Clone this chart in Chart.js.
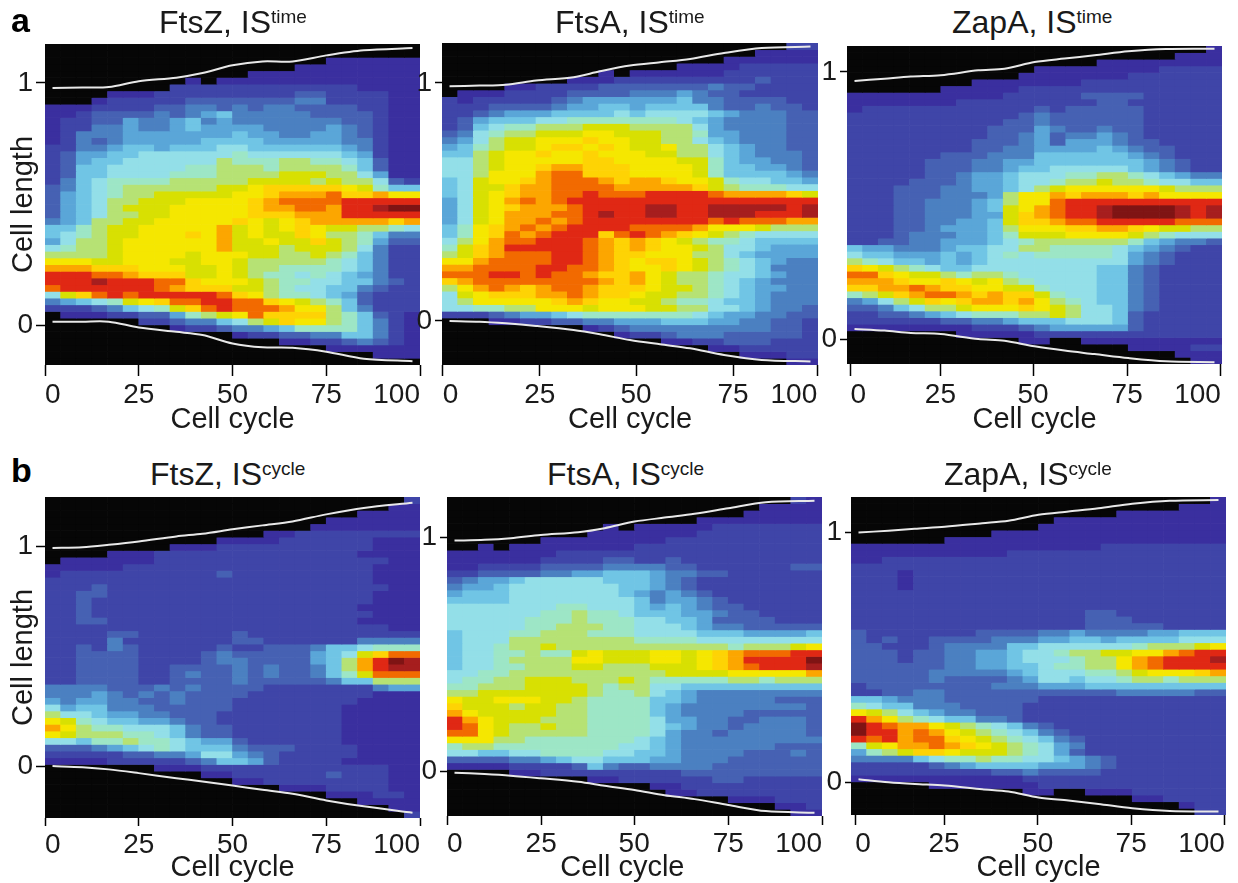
<!DOCTYPE html>
<html>
<head>
<meta charset="utf-8">
<title>Cell length heat maps</title>
<script src="https://cdn.jsdelivr.net/npm/chart.js@4/dist/chart.umd.min.js"></script>
<style>
    html, body { margin: 0; padding: 0; background: #fff; overflow: hidden; }
    #page { position: relative; width: 1238px; height: 883px; overflow: hidden; font-family: "Liberation Sans", Arial, sans-serif; color: #1a1a1a; }
    #page canvas { position: absolute; }
    .panel-title { position: absolute; font-size: 32px; line-height: 36px; white-space: nowrap; }
    .panel-title span { position: relative; top: -10px; font-size: 19px; }
    .panel-letter { position: absolute; left: 11px; font-size: 34px; line-height: 40px; font-weight: bold; color: #000; }
</style>
</head>
<body>
<div id="page"></div>
<script>
// Heat map levels, one string per row from top to bottom, one character per cell.
// "." is an empty (black) cell, then 0-9 a-g go from the darkest blue to the darkest red.
const ftszTimeCells = [
"........................",
"........................",
"..................000000",
"................00000000",
".............00000000000",
".........0.0000000000000",
"........1111111111110000",
"....00011111111122111100",
"...011111222222233111100",
"000111122332323322221100",
"001222232345333332222100",
"011224334534333333322100",
"011334334544443333432100",
"013334444444544334432100",
"013234444455554444433100",
"113345545556655555543100",
"124455666666766666654100",
"124556666668777887765200",
"125566666778887888875200",
"125566667778888999886400",
"135677778888899998988621",
"2356788888899abbbbba9755",
"245678899999aabcccdbbcaa",
"245688999aaaabcddddeeeee",
"24568999aaaaabccddceefgg",
"24568899aaaaabbbccceeeee",
"3458899aaaaaba9abcccccbc",
"557899aaaaac9a9aba998876",
"567899aaabac9a99ba887533",
"46889aaaaaac99a99b987422",
"67889aaaaaac999899986311",
"88889aaaa9aaa99889875311",
"aaa99aaa99aa988888765311",
"cccbbbaaa99a988777765311",
"eeeddcbbb99a987767654311",
"eeefeeeddbaaa98776655321",
"deeeeeedcbbb998766553211",
"69bdedeeeeedba8776542111",
"345679abddeeddba98752111",
"111235679bdedddcaa853111",
".00011224789adbbbb875210",
"......112335689baa875310",
"........0112334577775310",
"............011223355310",
"...............001123210",
"..................000000",
".....................000",
"........................"
];

const ftsaTimeCells = [
"......................11",
"....................0000",
"..................000000",
"...............000011111",
"..........0.000000111111",
"........0001111111112111",
"....00111122222223221111",
".00011112222333432211111",
"101111123444444533222211",
"111222234455455553223221",
"112344455556566665433322",
"124555667777777654333322",
"125677888999888864333322",
"236788999aa9998874433322",
"346899aaabaa998865433322",
"457899abbaba99a886543322",
"5589aabaabaaa99886543332",
"6689aaaaabbaaaa997544332",
"6689aabccbbbaaaa97554432",
"668aaacddbbbaaaa97555543",
"569aabcdddcbccbaa9766554",
"5699bccddddcccccb9877766",
"569abccddedddeeeedccccb9",
"469acdcdeeeeeeeeeeeeeeee",
"469abcccdeeeeffeefffffef",
"469acccddefeeffeefffeeef",
"469accdcdeeeeeeeededddcc",
"57abcdcdeeeeddddcaaa9888",
"57abdcdeeebdedcba9876666",
"68acddeeedcbcba987765555",
"79bceeeeedcbcbaa98665444",
"89bcdddeedcbbaaa88654444",
"aacddddeedcbabba98765433",
"ccddddeeddcbaaba98765333",
"dddeededdcbbca9887665433",
"bcddddddddcbca9887654333",
"8acdcbcddcbbba9987654433",
"69abbbccdcbba99887654333",
"68aaaaabcbaa998776554333",
"667788aaa9aaa99886654332",
"111234456777777765443322",
"...001122334445554433221",
".........012333333333221",
"...........0112333222221",
"..............0011222111",
".................0011111",
"...................00011",
"......................00"
];

const zapaTimeCells = [
".......................0",
".....................000",
"................00000000",
"............000000001111",
"...........0000000111111",
"........0000000111111111",
"......000001111111111111",
"000000000011111222211111",
"000000011111111122111111",
"011111111111212222211111",
"111111111112322222211111",
"111111111122322222211111",
"111111111222432232211111",
"111111111223423343211111",
"111111112223424443221111",
"111111112233444454322111",
"111111222333555555432111",
"111112223344555555543211",
"111112223345566666543211",
"111112234456667788765433",
"111122234456678898876655",
"11122233445689aaaaaa9888",
"11122233348aacbcccbcaaaa",
"11122333458aadeeeeeeeeee",
"11122333459acdeefggggfef",
"11122333449bcdeefggggfef",
"11122334459bbcddeeeeeddd",
"11122344458aaabbccba9988",
"11123334457999aaaa987666",
"112233444567888888754332",
"544333455668877776543211",
"655444545676777776432111",
"876554545666666666432111",
"ba9876556666666655321111",
"ddba99878876666655321111",
"cccbaaba9a87666655321111",
"bbccdcbbaa99766655321111",
"789bcddcbcbb976655321111",
"34689babccbca87655321111",
"22356889aaaba98665321111",
"112234567778898665211111",
"111111223345556665211111",
"000000001112344444211111",
".......00000111111111111",
"...........00..000000000",
"..................000011",
".....................000",
"......................00"
];

const ftszCycleCells = [
".......................1",
"......................00",
"....................0000",
"..................000000",
".................0000000",
"..............0011111111",
"...........0000111111000",
"........0001111111111000",
"....00011111111111110000",
".00000011111111111111100",
"000001111111111111111000",
"011111111112111111111000",
"111111111111111111111000",
"111211111111111111111100",
"112211111111111111111000",
"112111111111111111111000",
"112111111111111111110000",
"112111111111111111111000",
"112211111111111111110000",
"111111111111111111111100",
"111122111111211111111111",
"111131111111221111113333",
"112132111112112223556777",
"112222111123222224569bdd",
"11222211112332222458cegf",
"11222211222232322358ceff",
"112222112322323223579ddd",
"112222112222322222355888",
"333322232322221111111344",
"333432323222211111111000",
"434433223222111111110000",
"645533322222111111100000",
"866544332221111111100000",
"a97655443221111111100000",
"ca8776665322111111100000",
"a98887765322111111100000",
"665778776544211111100000",
"222345676555322211110000",
"111112233466432111110000",
"000011111235542111100000",
".......00011111111111100",
"..........00111111211100",
"............001111111100",
"...............000111100",
"..................000110",
"....................0000",
"......................00",
".......................1"
];

const ftsaCycleCells = [
"......................10",
"....................0000",
"...................00000",
"................00000000",
"..........0.000001111111",
".........000000011111111",
"......000000001111111111",
"..0.00000000111111111111",
"000000011111111111111111",
"000000111122112111111111",
"001111222233332211111122",
"112222334455543322111111",
"234456666655543211111111",
"344566666665543211111111",
"455566666665434321111111",
"555566666666534432111111",
"666666677666545432211111",
"666666778776555443221111",
"666667778777665542222111",
"666667788877666543322222",
"566677888777666655544445",
"566688888888777766666666",
"56678898888888888878889a",
"566778779a999aa9abcdddee",
"56678888aa999aa9abceeeeg",
"566778889988899 9abcdeeef",
"667788888888889999aaaaac",
"677889998889877777887888",
"778889999878866555555555",
"889999999877865433333333",
"a99aaa998777755433333222",
"b99989988777754333333332",
"ca9999988777754333322222",
"eca999888777764433223332",
"eda988988777765433233332",
"dda988888777764332333332",
"aaa887777777654333333333",
"788777777776654333333222",
"665566777766554333322232",
"222233456655544333222222",
"000011112532233332222222",
"....00111111111222222222",
".........001111112211111",
".............00111111111",
"..............0011111111",
"..................000111",
".....................001",
"......................00"
].map(function (row) { return row.replace(' ', ''); });

const zapaCycleCells = [
".......................0",
".....................000",
".................0000000",
".............00000000000",
"............000000000000",
".........000000000000000",
"......000000000000000000",
"000000000000000011111111",
"000000000011111111111111",
"001111111111111111111111",
"111111111111111111111111",
"111011111111111111111111",
"111011111111111111111111",
"111011111111111111111111",
"111111111111111111111111",
"111111111111111111111111",
"111111111111111111111111",
"111111111111111221111111",
"111111111111111222111111",
"111111111111111222221111",
"211111112222334333344555",
"212112222333445545555666",
"22111233335566666678889a",
"222122334456678899aacdee",
"22212233445666788acdeeef",
"22222233445567788acdeeee",
"2222233333456667789aaabc",
"222223222234665667887888",
"122222222333444555555555",
"112233222222222223333322",
"554333222222111111111111",
"765533322221111111111111",
"a98654332221111111111111",
"eca876553321111111111111",
"gedcca987653211111111111",
"geecdca98765321111111111",
"edecddba9876532111111111",
"79accdcba987643111111111",
"4789bba99987642111111111",
"333356778776654321111111",
"111112345555444321111111",
"111111111223222211111111",
"000000000001111111111111",
".....0000000111111111111",
"...........00..000111111",
"..................001111",
".....................011",
"......................11"
];

// White cell outlines (cell cycle %, cell length).
const outlineCycle = [2, 10, 17, 25, 35, 42, 50, 58, 66, 75, 85, 98];
const ftszTimeTop = [0.979, 0.981, 0.983, 1.007, 1.022, 1.041, 1.073, 1.089, 1.089, 1.114, 1.135, 1.144];
const ftszTimeBottom = [0.014, 0.014, 0.014, -0.010, -0.028, -0.041, -0.076, -0.092, -0.094, -0.110, -0.139, -0.149];
const ftsaTimeTop = [0.986, 0.989, 0.993, 1.010, 1.024, 1.049, 1.073, 1.087, 1.101, 1.126, 1.147, 1.153];
const ftsaTimeBottom = [0, -0.003, -0.010, -0.021, -0.038, -0.056, -0.080, -0.098, -0.115, -0.143, -0.164, -0.170];
const zapaTimeTop = [0.966, 0.975, 0.983, 0.988, 1.006, 1.012, 1.037, 1.050, 1.062, 1.077, 1.086, 1.087];
const zapaTimeBottom = [0.040, 0.034, 0.025, 0.021, 0.002, -0.004, -0.025, -0.041, -0.054, -0.069, -0.081, -0.084];
const ftszCycleTop = [0.991, 0.995, 1.006, 1.021, 1.044, 1.056, 1.076, 1.094, 1.112, 1.144, 1.173, 1.197];
const ftszCycleBottom = [0, -0.005, -0.015, -0.032, -0.055, -0.070, -0.088, -0.108, -0.126, -0.156, -0.183, -0.212];
const ftsaCycleTop = [0.987, 0.990, 0.997, 1.011, 1.023, 1.040, 1.068, 1.085, 1.101, 1.125, 1.151, 1.157];
const ftsaCycleBottom = [-0.004, -0.010, -0.017, -0.028, -0.043, -0.060, -0.078, -0.100, -0.117, -0.142, -0.168, -0.175];
const zapaCycleTop = [1, 1.007, 1.015, 1.023, 1.037, 1.047, 1.071, 1.084, 1.097, 1.115, 1.127, 1.130];
const zapaCycleBottom = [0.012, 0, -0.007, -0.013, -0.028, -0.037, -0.061, -0.073, -0.087, -0.104, -0.115, -0.117];

const xTickLabels = ['0', '25', '50', '75', '100'];
const yTickValues = [0, 1];
const xAxisTitle = 'Cell cycle';
const yAxisTitle = 'Cell length';

const levelColors = {
    '.': '#060606', '0': '#3a2f9f', '1': '#3f45a8', '2': '#4661b3', '3': '#4b80c1',
    '4': '#5aa6d8', '5': '#70c5e5', '6': '#93dfe8', '7': '#9de6c6', '8': '#b6e274',
    '9': '#d8e002', 'a': '#f5e700', 'b': '#fed304', 'c': '#fca600', 'd': '#f26a00',
    'e': '#e02814', 'f': '#a61e1e', 'g': '#7f1414'
};

// Where each panel sits on the page, and its axis ranges.
const panels = [
    { name: 'FtsZ', sup: 'time', cells: ftszTimeCells, top: ftszTimeTop, bottom: ftszTimeBottom,
      x: 45, y: 44, w: 375, h: 321, yMin: -0.165, yMax: 1.161, xTicks: [0, 25, 50, 75, 100],
      tickLen: 11, yTickLen: 9, leftW: 45, belowH: 72, titleX: 159, titleY: 4, hasYTitle: true, titleShift: '' },
    { name: 'FtsA', sup: 'time', cells: ftsaTimeCells, top: ftsaTimeTop, bottom: ftsaTimeBottom,
      x: 442, y: 43, w: 376, h: 322, yMin: -0.185, yMax: 1.168, xTicks: [0.2, 26, 51.6, 77.4, 99.8],
      tickLen: 11, yTickLen: 7, leftW: 30, belowH: 72, titleX: 555, titleY: 4, titleShift: '' },
    { name: 'ZapA', sup: 'time', cells: zapaTimeCells, top: zapaTimeTop, bottom: zapaTimeBottom,
      x: 847, y: 46, w: 375, h: 318, yMin: -0.091, yMax: 1.097, xTicks: [0.9, 24.9, 49.6, 74.7, 99.7],
      tickLen: 12, yTickLen: 7, leftW: 30, belowH: 73, titleX: 952, titleY: 4, titleShift: '' },
    { name: 'FtsZ', sup: 'cycle', cells: ftszCycleCells, top: ftszCycleTop, bottom: ftszCycleBottom,
      x: 45, y: 497, w: 375, h: 321, yMin: -0.236, yMax: 1.223, xTicks: [0, 25, 50, 75, 100],
      tickLen: 8, yTickLen: 9, leftW: 45, belowH: 67, titleX: 150, titleY: 456, hasYTitle: true, titleShift: '' },
    { name: 'FtsA', sup: 'cycle', cells: ftsaCycleCells, top: ftsaCycleTop, bottom: ftsaCycleBottom,
      x: 447, y: 497, w: 375, h: 319, yMin: -0.189, yMax: 1.173, xTicks: [0, 25.1, 49.9, 75, 100],
      tickLen: 9, yTickLen: 7, leftW: 30, belowH: 69, titleX: 547, titleY: 456, titleShift: '   ' },
    { name: 'ZapA', sup: 'cycle', cells: zapaCycleCells, top: zapaCycleTop, bottom: zapaCycleBottom,
      x: 851, y: 497, w: 375, h: 318, yMin: -0.131, yMax: 1.142, xTicks: [1.1, 24.8, 49.8, 74.7, 99.7],
      tickLen: 10, yTickLen: 6, leftW: 30, belowH: 70, titleX: 944, titleY: 456, titleShift: '' }
];

const page = document.getElementById('page');

Chart.defaults.font.family = '"Liberation Sans", Arial, sans-serif';
Chart.defaults.color = '#1a1a1a';

// One floating bar dataset per heat map row.
function buildCellDatasets(panel) {
    var rowHeight = (panel.yMax - panel.yMin) / panel.cells.length;
    return panel.cells.map(function (row, r) {
        var hi = panel.yMax - r * rowHeight;
        var colors = [];
        var data = [];
        for (var c = 0; c < row.length; c++) {
            colors.push(levelColors[row.charAt(c)]);
            data.push([hi - rowHeight, hi]);
        }
        return {
            type: 'bar', xAxisID: 'x', yAxisID: 'y', order: 1, data: data,
            backgroundColor: colors, borderWidth: 0, grouped: false,
            barPercentage: 1, categoryPercentage: 1
        };
    });
}

function buildOutline(values) {
    return {
        type: 'line', xAxisID: 'x2', yAxisID: 'y', order: 0,
        data: values.map(function (v, i) { return { x: outlineCycle[i], y: v }; }),
        borderColor: '#e8e8e8', borderWidth: 2, pointRadius: 0, tension: 0.3
    };
}

function drawPanel(panel) {
    var canvas = document.createElement('canvas');
    canvas.width = panel.leftW + panel.w + 6;
    canvas.height = panel.h + panel.belowH;
    canvas.style.left = (panel.x - panel.leftW) + 'px';
    canvas.style.top = panel.y + 'px';
    page.appendChild(canvas);

    var title = document.createElement('div');
    title.className = 'panel-title';
    title.style.left = panel.titleX + 'px';
    title.style.top = panel.titleY + 'px';
    title.innerHTML = panel.name + ', IS<span>' + panel.sup + '</span>';
    page.appendChild(title);

    new Chart(canvas.getContext('2d'), {
        data: {
            labels: panel.cells[0].split('').map(function (_, c) { return c; }),
            datasets: buildCellDatasets(panel).concat([buildOutline(panel.top), buildOutline(panel.bottom)])
        },
        options: {
            responsive: false,
            animation: false,
            layout: { autoPadding: false, padding: { right: 6 } },
            plugins: { legend: { display: false }, tooltip: { enabled: false } },
            scales: {
                x: { type: 'category', display: false, offset: true, stacked: false },
                x2: {
                    type: 'linear', position: 'bottom', min: 0, max: 100,
                    grid: { drawOnChartArea: false, tickLength: panel.tickLen, tickColor: '#000', tickWidth: 1.5 },
                    border: { display: false },
                    ticks: {
                        align: 'inner', autoSkip: false, maxRotation: 0, padding: 2,
                        font: { size: 28 },
                        callback: function (value, index) { return xTickLabels[index]; }
                    },
                    title: { display: true, text: xAxisTitle + panel.titleShift, font: { size: 29 }, padding: 0 },
                    afterBuildTicks: function (scale) {
                        scale.ticks = panel.xTicks.map(function (v) { return { value: v }; });
                    },
                    afterFit: function (scale) { scale.height = panel.belowH; }
                },
                y: {
                    type: 'linear', min: panel.yMin, max: panel.yMax,
                    grid: { drawOnChartArea: false, tickLength: panel.yTickLen, tickColor: '#000', tickWidth: 1.5 },
                    border: { display: false },
                    ticks: { padding: 3, font: { size: 28 }, callback: function (value) { return value; } },
                    title: { display: !!panel.hasYTitle, text: yAxisTitle, font: { size: 29 }, padding: { top: 7, bottom: 0 } },
                    afterBuildTicks: function (scale) {
                        scale.ticks = yTickValues.map(function (v) { return { value: v }; });
                    },
                    afterFit: function (scale) {
                        scale.width = panel.leftW;
                        // labels sit well inside the plot, no room needed above or below
                        scale.paddingTop = 0;
                        scale.paddingBottom = 0;
                    }
                }
            }
        }
    });
}

panels.forEach(drawPanel);

// Panel letters
[['a', 0], ['b', 450]].forEach(function (item) {
    var letter = document.createElement('div');
    letter.className = 'panel-letter';
    letter.style.top = item[1] + 'px';
    letter.textContent = item[0];
    page.appendChild(letter);
});
</script>
</body>
</html>
